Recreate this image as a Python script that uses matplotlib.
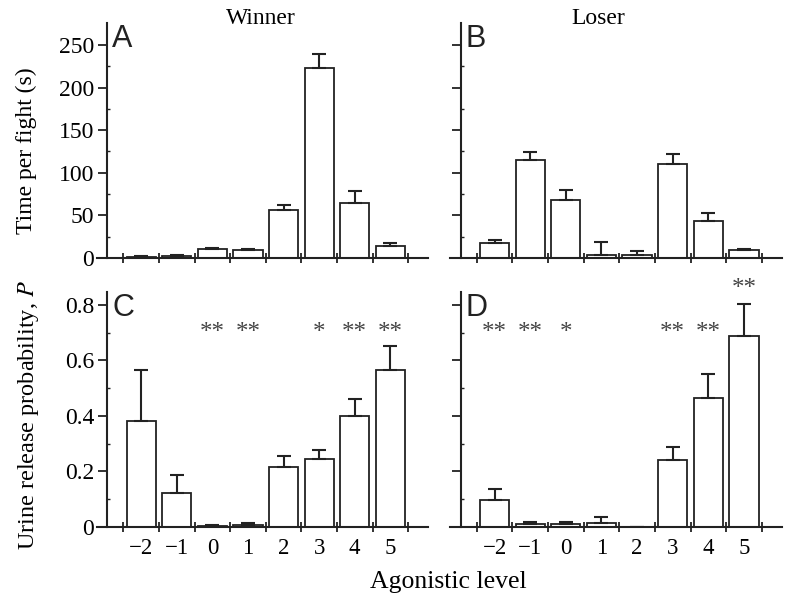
import numpy as np
import matplotlib.pyplot as plt

plt.rcParams["font.family"] = "Liberation Serif"
plt.rcParams["mathtext.fontset"] = "stix"

# agonistic levels and bar heights / upper error (mean + SE)
levels = [-2, -1, 0, 1, 2, 3, 4, 5]
level_labels = ["\u22122", "\u22121", "0", "1", "2", "3", "4", "5"]

win_time = [1, 2, 10.2, 9.8, 56.7, 223.4, 65, 14.5]
win_time_err = [1, 1.5, 1.8, 1.2, 5.9, 15.6, 13.6, 3.1]
lose_time = [17.2, 114.5, 67.6, 3.5, 3.1, 109.8, 43.8, 9]
lose_time_err = [4.3, 10.1, 11.7, 15.3, 4.7, 11.7, 9.4, 2]

win_p = [0.383, 0.12, 0.004, 0.007, 0.215, 0.245, 0.40, 0.567]
win_p_err = [0.184, 0.067, 0.003, 0.007, 0.041, 0.032, 0.062, 0.085]
lose_p = [0.096, 0.008, 0.008, 0.012, 0.0, 0.242, 0.464, 0.688]
lose_p_err = [0.039, 0.009, 0.008, 0.024, 0.0, 0.047, 0.087, 0.116]

# significance marks: (level, label, height)
win_stars = [(0, "**", 0.70), (1, "**", 0.70), (3, "*", 0.70),
             (4, "**", 0.70), (5, "**", 0.70)]
lose_stars = [(-2, "**", 0.70), (-1, "**", 0.70), (0, "*", 0.70),
              (3, "**", 0.70), (4, "**", 0.70), (5, "**", 0.857)]

fig = plt.figure(figsize=(7.87, 6.0), dpi=100)
axA = fig.add_axes([0.1229, 0.570, 0.421, 0.392])
axB = fig.add_axes([0.5718, 0.570, 0.4215, 0.392])
axC = fig.add_axes([0.1229, 0.1222, 0.421, 0.3917])
axD = fig.add_axes([0.5718, 0.1222, 0.4215, 0.3917])


def draw(ax, vals, errs, ymax, major, minor, letter, bottom_row, left_col):
    ax.bar(levels, vals, width=0.82, color="white", edgecolor="#222222",
           linewidth=1.3, zorder=2)
    ax.errorbar(levels, vals, yerr=[np.zeros(len(errs)), errs], fmt="none",
                ecolor="#222222", elinewidth=1.5, capsize=5, capthick=1.5,
                zorder=3)
    ax.set_xlim(-3.25, 6.06)
    ax.set_ylim(0, ymax)
    for s in ("top", "right"):
        ax.spines[s].set_visible(False)
    ax.spines["left"].set_position(("data", -2.95))
    ax.spines["left"].set_linewidth(1.5)
    ax.spines["bottom"].set_linewidth(1.5)
    ax.spines["left"].set_color("#222222")
    ax.spines["bottom"].set_color("#222222")

    ax.set_yticks(major)
    ax.set_yticks(minor, minor=True)
    ax.tick_params(axis="y", which="major", direction="out", length=6.5,
                   width=1.3, labelsize=17, color="#222222", pad=3)
    ax.tick_params(axis="y", which="minor", direction="in", length=2.5,
                   width=1.0, color="#222222")
    if not left_col:
        ax.set_yticklabels([])

    ax.set_xticks(np.arange(-2.5, 6.0, 1.0))
    ax.set_xticklabels([])
    ax.set_xticks(levels, minor=True)
    ax.tick_params(axis="x", which="major", direction="inout", length=7,
                   width=1.3, color="#222222")
    ax.tick_params(axis="x", which="minor", length=0, labelsize=16.5, pad=8)
    if bottom_row:
        ax.set_xticklabels(level_labels, minor=True)

    ax.text(-2.82, ymax * 0.995, letter, fontsize=22, family="Liberation Sans",
            ha="left", va="top", color="#222222")


draw(axA, win_time, win_time_err, 276, [0, 50, 100, 150, 200, 250],
     [25, 75, 125, 175, 225], "A", False, True)
draw(axB, lose_time, lose_time_err, 276, [0, 50, 100, 150, 200, 250],
     [25, 75, 125, 175, 225], "B", False, False)
draw(axC, win_p, win_p_err, 0.848, [0, 0.2, 0.4, 0.6, 0.8],
     [0.1, 0.3, 0.5, 0.7], "C", True, True)
draw(axD, lose_p, lose_p_err, 0.848, [0, 0.2, 0.4, 0.6, 0.8],
     [0.1, 0.3, 0.5, 0.7], "D", True, False)

axC.set_yticklabels(["0", "0.2", "0.4", "0.6", "0.8"])

for ax, stars in ((axC, win_stars), (axD, lose_stars)):
    for lv, s, h in stars:
        ax.text(lv, h, s, ha="center", va="center", fontsize=18,
                color="#444444", clip_on=False)

fig.text(261 / 787, 1 - 18 / 600, "Winner", ha="center", va="center",
         fontsize=17)
fig.text(598 / 787, 1 - 18 / 600, "Loser", ha="center", va="center",
         fontsize=17)
fig.text(26 / 787, 1 - 151 / 600, "Time per fight (s)", rotation=90,
         ha="center", va="center", fontsize=17)
fig.text(29 / 787, 1 - 415 / 600, "Urine release probability, $\\mathit{P}$",
         rotation=90, ha="center", va="center", fontsize=17.5)
fig.text(448 / 787, 1 - 582 / 600, "Agonistic level", ha="center",
         va="center", fontsize=18.5)

fig.savefig("out.png", dpi=100)
